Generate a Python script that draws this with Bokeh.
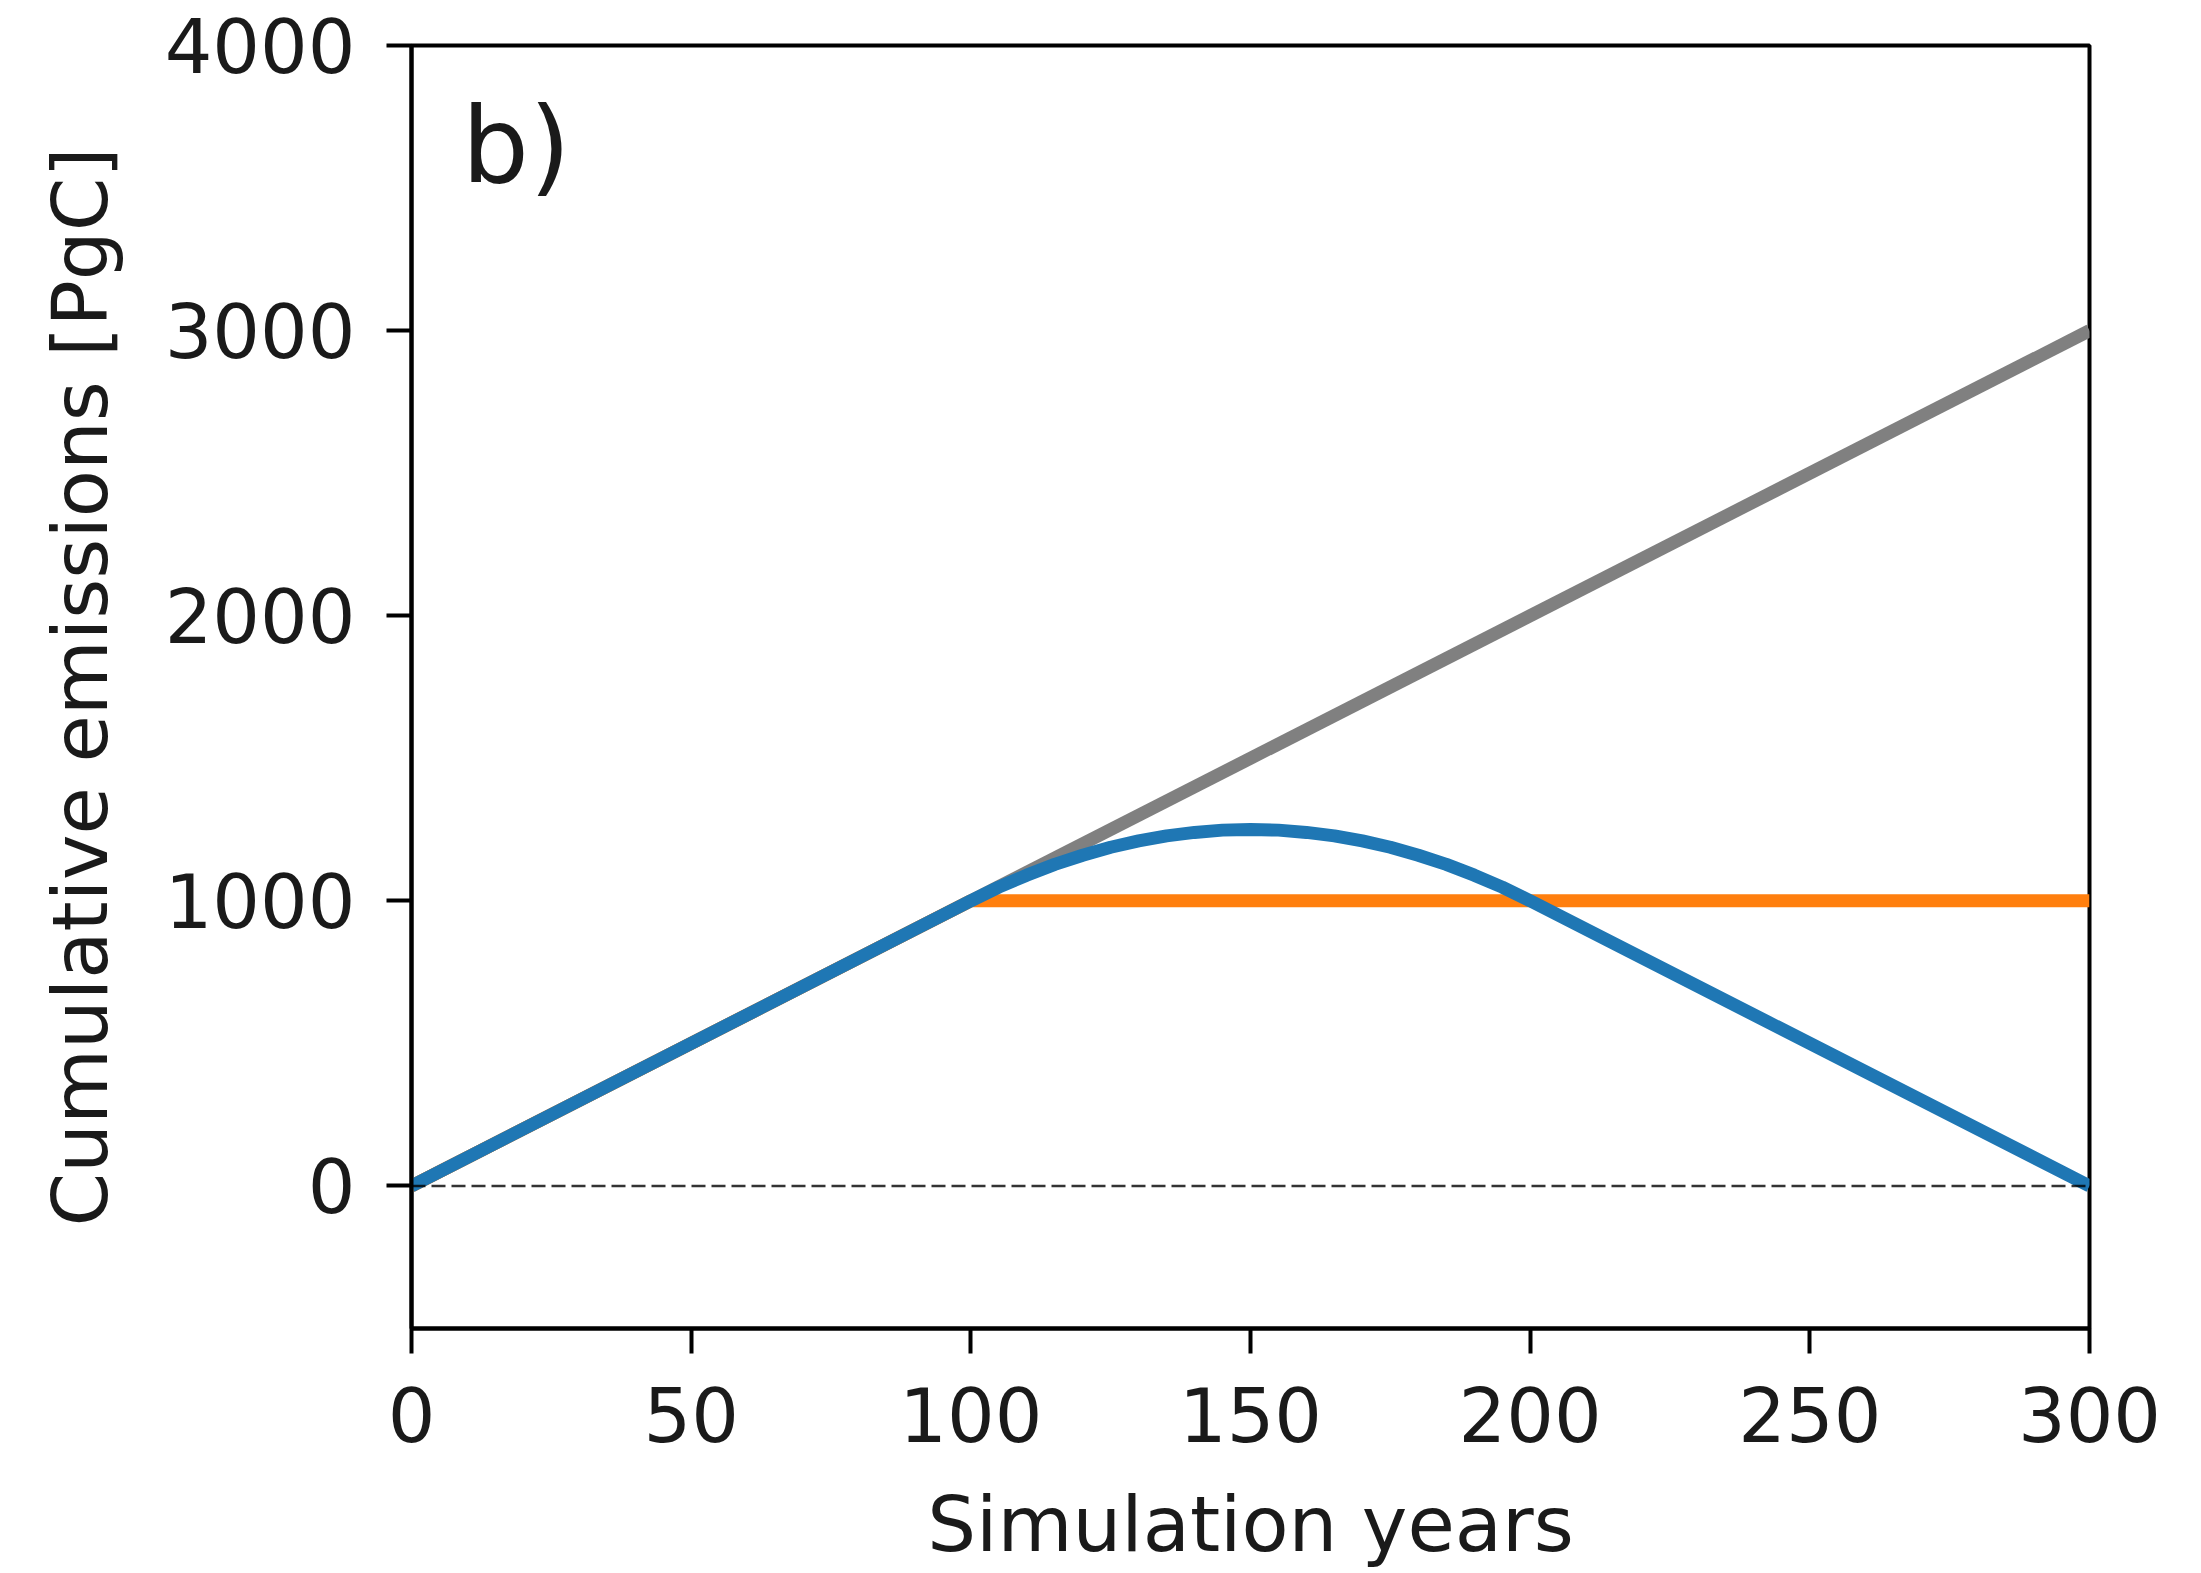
from bokeh.plotting import figure
from bokeh.models import FixedTicker, Range1d, Span
from bokeh.core.properties import value
from bokeh.embed import file_html
from bokeh.resources import INLINE

# ---- data ----
years_ref = [0, 300]
cum_ref = [0, 3000]

years_stab = [0, 100, 300]
cum_stab = [0, 1000, 1000]

years_os = [0, 100, 105, 110, 115, 120, 125, 130, 135, 140, 145, 150,
            155, 160, 165, 170, 175, 180, 185, 190, 195, 200, 300]
cum_os = [0, 1000, 1048, 1090, 1128, 1160, 1188, 1210, 1228, 1240, 1248, 1250,
          1248, 1240, 1228, 1210, 1188, 1160, 1128, 1090, 1048, 1000, 0]

x_ticks = [0, 50, 100, 150, 200, 250, 300]
y_ticks = [0, 1000, 2000, 3000, 4000]

panel_label = "b)"

FONT = "DejaVu Sans"
TICK_FS = "75px"
LABEL_FS = "77px"

p = figure(width=2201, height=1573, output_backend="svg", toolbar_location=None,
           x_range=Range1d(0, 300), y_range=Range1d(-500, 4000),
           min_border_left=411, min_border_right=112,
           min_border_top=45, min_border_bottom=245)

p.background_fill_color = "white"
p.border_fill_color = "white"
p.outline_line_color = "black"
p.outline_line_width = 4
p.xgrid.visible = False
p.ygrid.visible = False

# zero reference line
p.add_layout(Span(location=0, dimension="width", line_color="black",
                  line_width=2.5, line_dash="14 6", line_alpha=0.8))

p.line(years_ref, cum_ref, line_color="#808080", line_width=13)
p.line(years_stab, cum_stab, line_color="#ff7f0e", line_width=13)
p.line(years_os, cum_os, line_color="#1f77b4", line_width=13)

p.text(x=[9], y=[3650], text=[panel_label], text_font=value(FONT), text_font_size="106px",
       text_font_style="normal",
       text_color="#1a1a1a", text_baseline="alphabetic", text_align="left")

for ax in (p.xaxis[0], p.yaxis[0]):
    ax.axis_line_width = 4
    ax.major_tick_line_width = 4
    ax.major_tick_out = 25
    ax.major_tick_in = 0
    ax.minor_tick_out = 0
    ax.minor_tick_in = 0
    ax.major_label_text_font = FONT
    ax.major_label_text_font_size = TICK_FS
    ax.major_label_text_color = "#1a1a1a"
    ax.axis_label_text_font = FONT
    ax.axis_label_text_font_size = LABEL_FS
    ax.axis_label_text_font_style = "normal"
    ax.axis_label_text_color = "#1a1a1a"

p.xaxis.ticker = FixedTicker(ticks=x_ticks)
p.yaxis.ticker = FixedTicker(ticks=y_ticks)
p.xaxis.axis_label = "Simulation years"
p.yaxis.axis_label = "Cumulative emissions [PgC]"
p.xaxis.major_label_standoff = 33
p.yaxis.major_label_standoff = 31
p.xaxis.axis_label_standoff = 35
p.yaxis.axis_label_standoff = 37

open("out.html", "w").write(file_html(p, INLINE))
